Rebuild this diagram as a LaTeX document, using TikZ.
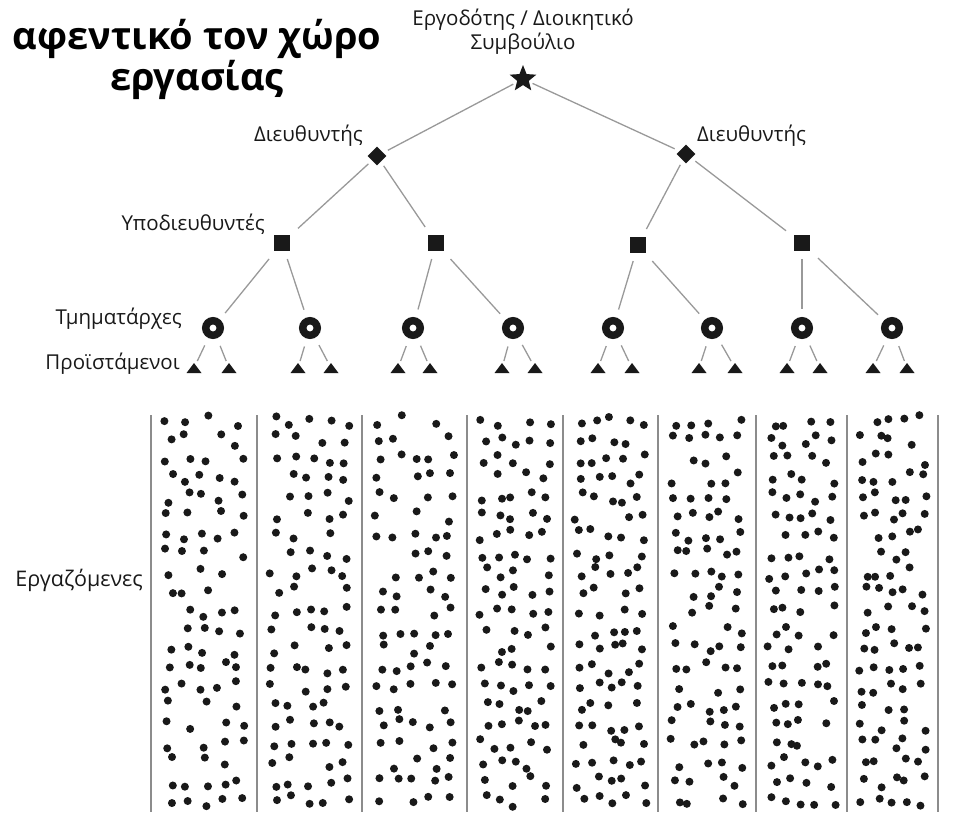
\documentclass[tikz,border=0pt]{standalone}
\usepackage{fontspec}
\setmainfont{Open Sans}
\usetikzlibrary{shapes.geometric,
                positioning}
\tikzset{boss/.style =
   {star,
    star points=5,
    star point ratio=2.3,
    fill=black!90,
    inner sep=0pt,
    minimum size=28pt,
    outer sep=3pt}}
\tikzset{director/.style =
   {diamond,
    fill=black!90,
    inner sep=0pt,
    minimum size=23pt,
    outer sep=5pt}}
\tikzset{deputy/.style =
   {rectangle,
    fill=black!90,
    inner sep=0pt,
    minimum size=16pt,
    outer sep=8pt}}
\tikzset{head/.style =
   {circle,
    draw=black!90,
    line width=7.5pt,
    inner sep=0pt,
    minimum size=14.5pt,
    outer sep=12pt}}
\tikzset{lead/.style =
   {rectangle,
    inner sep=0pt,
    minimum width=15pt,
    minimum height=10pt,
    outer sep=2pt,
    path picture={\fill[black!90] (path picture bounding box.south west)
                  -- (path picture bounding box.south east)
                  -- (path picture bounding box.north) -- cycle;}}}
\tikzset{rank/.style =
   {inner sep=0pt,
    text=black!90,
    font=\fontsize{20.5}{24}\selectfont}}
\tikzset{link/.style = {draw, black!40, line width=1.3pt}}
\tikzset{divider/.style = {draw, black!45, line width=1.5pt}}

\begin{document}
\begin{tikzpicture}[x=1pt, y=-1pt]

    \useasboundingbox (0,0) rectangle (955,815);

    % title
    \node [font=\fontsize{38}{41}\selectfont\bfseries,
           anchor=base] (title1) at (197,49) {αφεντικό τον χώρο};
    \node [font=\fontsize{38}{41}\selectfont\bfseries,
           anchor=base] (title2) at (197,90) {εργασίας};

    % hierarchy
    \node [boss] (board) at (523,79) {};
    \node [rank,
           align=center,
           above = 2pt of board] (boardlbl)
    {Εργοδότης / Διοικητικό\\Συμβούλιο};

    \node [director] (dirA) at (377,156) {};
    \node [director] (dirB) at (686,154) {};

    \node [deputy] (depA) at (282,243) {};
    \node [deputy] (depB) at (436,243) {};
    \node [deputy] (depC) at (638,245) {};
    \node [deputy] (depD) at (802,243) {};

    \foreach \x [count=\i] in {213,310,413,513,613,712,802,892}
        \node [head] (head\i) at (\x,328) {};

    \foreach \xa/\xb [count=\i] in {194/229, 298/331, 398/430, 502/535,
                                   598/632, 699/735, 787/820, 873/907}{
        \node [lead] (lead\i a) at (\xa,368) {};
        \node [lead] (lead\i b) at (\xb,368) {};
    }

    % labels
    \node [rank, anchor=mid east] (dirlblA) at (363,139) {Διευθυντής};
    \node [rank, anchor=mid west] (dirlblB) at (697,139) {Διευθυντής};
    \node [rank, anchor=mid east] (deplbl) at (265,228) {Υποδιευθυντές};
    \node [rank, anchor=mid east] (headlbl) at (182,322) {Τμηματάρχες};
    \node [rank, anchor=mid east] (leadlbl) at (180,367) {Προϊστάμενοι};
    \node [rank,
           font=\fontsize{21.5}{24}\selectfont,
           anchor=mid east] (stafflbl) at (143,584) {Εργαζόμενες};

    % connectors
    \foreach \a/\b in {board/dirA, board/dirB,
                       dirA/depA, dirA/depB, dirB/depC, dirB/depD,
                       depA/head1, depA/head2, depB/head3, depB/head4,
                       depC/head5, depC/head6, depD/head7, depD/head8}
        \path [link] (\a) -- (\b);
    \foreach \i in {1,...,8}{
        \path [link] (head\i) -- (lead\i a);
        \path [link] (head\i) -- (lead\i b);
    }

    % staff columns
    \foreach \x in {151,257,362,467,563,658,756,847,938}
        \path [divider] (\x,415) -- (\x,812);

    \pgfmathsetseed{4711}
    \foreach \colL/\colR in {151/257, 257/362, 362/467, 467/563,
                             563/658, 658/756, 756/847, 847/938}{
        \foreach \row in {0,...,20}{
            \foreach \col in {0,...,4}{
                \pgfmathtruncatemacro{\keep}{rnd<0.87 ? 1 : 0}
                \ifnum\keep=1
                    \pgfmathsetmacro{\dotx}{\colL+9+(\colR-\colL-18)*(\col+0.5)/5+5*rand}
                    \pgfmathsetmacro{\doty}{421+19*\row+6*rand}
                    \fill [black!90] (\dotx,\doty) circle [radius=4pt];
                \fi
            }
        }
    }

\end{tikzpicture}
\end{document}
